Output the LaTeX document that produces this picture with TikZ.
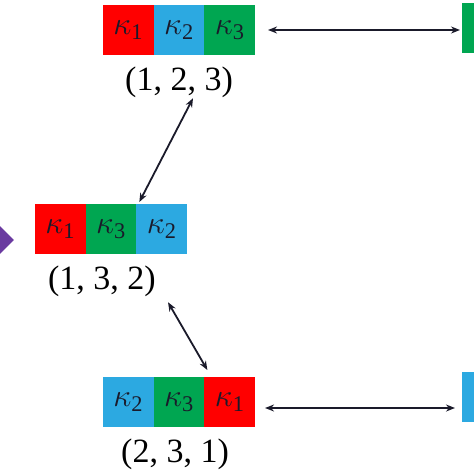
\RequirePackage{fix-cm}
\documentclass[tikz,border=0pt]{standalone}
\usepackage{fontspec}
\setmainfont{Liberation Serif}
\usetikzlibrary{positioning, arrows.meta, shapes.geometric, calc}

\definecolor{kred}{HTML}{FF0000}
\definecolor{kblue}{HTML}{2CA9E1}
\definecolor{kgreen}{HTML}{00A651}
\definecolor{kpurple}{HTML}{6A3AA0}
\definecolor{kink}{HTML}{1A1A2A}

\newcommand{\kap}[1]{$\kappa_{\mathrm{#1}}$}

\begin{document}
\begin{tikzpicture}[
    % GLOBAL CFG
    x=1pt, y=-1pt,
    font=\fontsize{32}{36}\selectfont,
    >={Stealth[length=9pt, width=7pt]},
    % Styles
    cell/.style={% one coloured slot of a permutation
        rectangle,
        minimum width=50.7pt,
        minimum height=50pt,
        inner sep=0pt,
        outer sep=0pt,
        text=kink,
        },
    perm/.style={% the tuple under a bar
        inner sep=0pt,
        font=\fontsize{34}{38}\selectfont,
        },
    swap/.style={% arrows between permutations
        <->,
        line width=1.8pt,
        draw=kink,
        },
    ]

\clip (0,0) rectangle (474,474);

    % Bar (1,2,3)
    \node[cell, fill=kred] (t1) at (128.3,30) {\kap{1}};
    \node[cell, fill=kblue, right=0pt of t1] (t2) {\kap{2}};
    \node[cell, fill=kgreen, right=0pt of t2] (t3) {\kap{3}};
    \node[perm, below=12pt of t2] (p123) {(1, 2, 3)};

    % Bar (1,3,2)
    \node[cell, fill=kred] (m1) at (60.3,229) {\kap{1}};
    \node[cell, fill=kgreen, right=0pt of m1] (m2) {\kap{3}};
    \node[cell, fill=kblue, right=0pt of m2] (m3) {\kap{2}};
    \node[perm, below=12pt of m2, xshift=-9pt] (p132) {(1, 3, 2)};

    % Bar (2,3,1)
    \node[cell, fill=kblue] (b1) at (128.3,402) {\kap{2}};
    \node[cell, fill=kgreen, right=0pt of b1] (b2) {\kap{3}};
    \node[cell, fill=kred, right=0pt of b2] (b3) {\kap{1}};
    \node[perm, below=12pt of b2, xshift=-4pt] (p231) {(2, 3, 1)};

    % Bars cut off at the edges
    \node[cell, fill=kgreen, anchor=north west] (g1) at (462,3) {};
    \node[cell, fill=kblue, anchor=north west] (g2) at (462,372) {};
    \node[diamond, fill=kpurple, minimum size=54pt, inner sep=0pt] (d) at (-13,240) {};

    % Arrows
    \draw[swap, shorten <=13pt, shorten >=2pt] (t3.east) -- (g1.west |- t3.east);
    \draw[swap, shorten <=10pt, shorten >=7pt] ($(b3.east)+(0,6)$) -- ($(g2.west |- b3.east)+(0,6)$);
    \draw[swap] ($(p123.south)+(14,0)$) -- ($(m2.north east)+(3,-2)$);
    \draw[swap] ($(p132.south east)+(12,5)$) -- ($(b2.north east)+(3,-7)$);

\end{tikzpicture}
\end{document}
